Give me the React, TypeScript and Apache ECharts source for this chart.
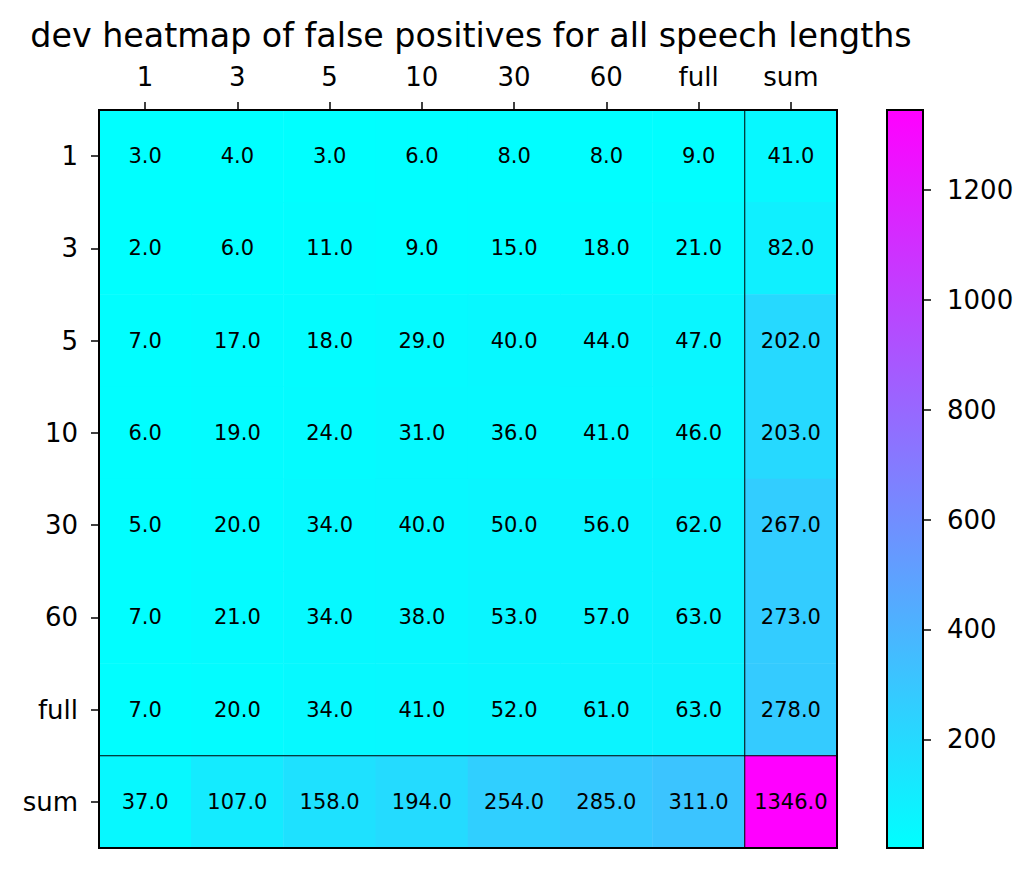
import React, { useEffect, useRef } from "react";
import * as echarts from "echarts";

const xCats = ["1", "3", "5", "10", "30", "60", "full", "sum"];
const yCats = ["1", "3", "5", "10", "30", "60", "full", "sum"];
const row1 = [3, 4, 3, 6, 8, 8, 9, 41];
const row3 = [2, 6, 11, 9, 15, 18, 21, 82];
const row5 = [7, 17, 18, 29, 40, 44, 47, 202];
const row10 = [6, 19, 24, 31, 36, 41, 46, 203];
const row30 = [5, 20, 34, 40, 50, 56, 62, 267];
const row60 = [7, 21, 34, 38, 53, 57, 63, 273];
const rowFull = [7, 20, 34, 41, 52, 61, 63, 278];
const rowSum = [37, 107, 158, 194, 254, 285, 311, 1346];
const rows = [row1, row3, row5, row10, row30, row60, rowFull, rowSum];
const cbTicks = [200, 400, 600, 800, 1000, 1200];
const titleText = "dev heatmap of false positives for all speech lengths";

const FONT = "DejaVu Sans";

export default function App() {
  const ref = useRef<HTMLDivElement>(null);
  useEffect(() => {
    if (!ref.current) return;
    const chart = echarts.init(ref.current, undefined, { renderer: "svg" });
    const data: number[][] = [];
    rows.forEach((r, yi) => r.forEach((v, xi) => data.push([xi, yi, v])));
    const all = rows.flat();
    const vmin = Math.min(...all);
    const vmax = Math.max(...all);
    chart.setOption({
      animation: false,
      backgroundColor: "#fff",
      textStyle: { fontFamily: FONT },
      title: {
        text: titleText,
        left: 466,
        textAlign: "center",
        top: 14,
        textStyle: { fontFamily: FONT, fontSize: 33.3, fontWeight: "normal", color: "#000" },
      },
      grid: [
        { left: 99, top: 110, width: 738, height: 738, show: false },
        { left: 887, top: 110, width: 36, height: 738, show: false },
      ],
      xAxis: [
        {
          type: "category", data: xCats, position: "top", gridIndex: 0,
          axisLine: { show: false },
          axisTick: { show: true, alignWithLabel: true, length: 8, lineStyle: { color: "#000", width: 1.5 } },
          axisLabel: { color: "#000", fontSize: 26, fontFamily: FONT, margin: 20 },
          splitLine: { show: false },
        },
        {
          type: "category", data: ["cb"], gridIndex: 1, show: false,
        },
      ],
      yAxis: [
        {
          type: "category", data: yCats, inverse: true, gridIndex: 0,
          axisLine: { show: false },
          axisTick: { show: true, alignWithLabel: true, length: 8, lineStyle: { color: "#000", width: 1.5 } },
          axisLabel: { color: "#000", fontSize: 26, fontFamily: FONT, margin: 21 },
          splitLine: { show: false },
        },
        {
          type: "value", gridIndex: 1, position: "right", min: vmin, max: vmax,
          axisLine: { show: false },
          axisTick: { show: true, length: 8, customValues: cbTicks, lineStyle: { color: "#000", width: 1.5 } },
          axisLabel: {
            color: "#000", fontSize: 26, fontFamily: FONT, margin: 24, customValues: cbTicks,
            formatter: (v: number) => String(v),
          },
          splitLine: { show: false },
        },
      ],
      visualMap: {
        show: false, seriesIndex: 0, min: vmin, max: vmax,
        inRange: { color: ["#00ffff", "#ff00ff"] },
      },
      series: [
        {
          type: "heatmap", xAxisIndex: 0, yAxisIndex: 0, data,
          label: {
            show: true, color: "#000", fontSize: 21, fontFamily: FONT,
            formatter: (p: any) => p.value[2].toFixed(1),
          },
          itemStyle: { borderWidth: 0 },
          emphasis: { disabled: true },
        },
        {
          type: "bar", xAxisIndex: 1, yAxisIndex: 1, data: [vmax], barWidth: "100%", clip: true,
          itemStyle: {
            color: new echarts.graphic.LinearGradient(0, 1, 0, 0, [
              { offset: 0, color: "#00ffff" },
              { offset: 1, color: "#ff00ff" },
            ]),
          },
          silent: true,
        },
      ],
    });
    const a = chart.convertToPixel({ xAxisIndex: 0, yAxisIndex: 0 }, [6, 6]) as number[];
    const b = chart.convertToPixel({ xAxisIndex: 0, yAxisIndex: 0 }, [7, 7]) as number[];
    const sx = (a[0] + b[0]) / 2;
    const sy = (a[1] + b[1]) / 2;
    chart.setOption({
      graphic: [
        { type: "line", z: 100, shape: { x1: sx, y1: 110, x2: sx, y2: 848 }, style: { stroke: "#000", lineWidth: 1 } },
        { type: "line", z: 100, shape: { x1: 99, y1: sy, x2: 837, y2: sy }, style: { stroke: "#000", lineWidth: 1 } },
        { type: "rect", z: 101, shape: { x: 99, y: 110, width: 738, height: 738 }, style: { fill: "none", stroke: "#000", lineWidth: 2 } },
        { type: "rect", z: 101, shape: { x: 887, y: 110, width: 36, height: 738 }, style: { fill: "none", stroke: "#000", lineWidth: 2 } },
      ],
    });
    return () => chart.dispose();
  }, []);
  return <div ref={ref} style={{ width: 1034, height: 869, margin: -8 }} />;
}
